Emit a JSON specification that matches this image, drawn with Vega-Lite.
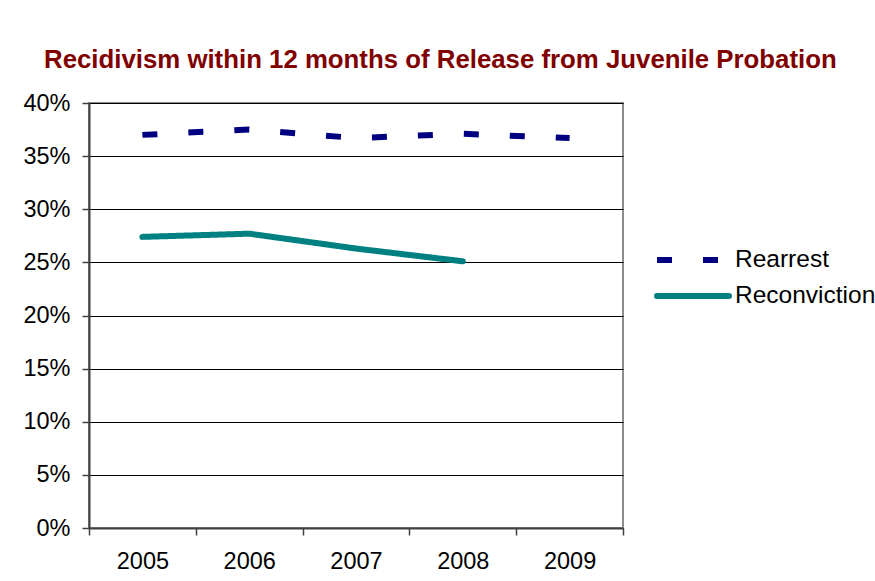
{
  "$schema": "https://vega.github.io/schema/vega-lite/v6.json",
  "width": 534,
  "height": 425,
  "autosize": {"type": "none"},
  "padding": {"left": 89, "top": 103, "right": 252, "bottom": 53},
  "background": "white",
  "title": {
    "text": "Recidivism within 12 months of Release from Juvenile Probation",
    "anchor": "start",
    "frame": "group",
    "orient": "top",
    "dx": -45,
    "dy": 38,
    "offset": 35,
    "baseline": "alphabetic",
    "font": "Liberation Sans",
    "fontSize": 25.8,
    "fontWeight": "bold",
    "color": "#800000"
  },
  "data": {
    "values": [
      {"year": "2005", "series": "Rearrest", "value": 0.370},
      {"year": "2006", "series": "Rearrest", "value": 0.375},
      {"year": "2007", "series": "Rearrest", "value": 0.367},
      {"year": "2008", "series": "Rearrest", "value": 0.371},
      {"year": "2009", "series": "Rearrest", "value": 0.367},
      {"year": "2005", "series": "Reconviction", "value": 0.274},
      {"year": "2006", "series": "Reconviction", "value": 0.277},
      {"year": "2007", "series": "Reconviction", "value": 0.263},
      {"year": "2008", "series": "Reconviction", "value": 0.251}
    ]
  },
  "encoding": {
    "x": {
      "field": "year",
      "type": "ordinal",
      "scale": {"type": "band", "paddingInner": 0, "paddingOuter": 0},
      "axis": {
        "title": null,
        "labelAngle": 0,
        "tickBand": "extent",
        "grid": false,
        "domainColor": "#404040",
        "domainWidth": 2,
        "tickColor": "#404040",
        "tickWidth": 1.5,
        "tickSize": 7,
        "labelPadding": 14,
        "labelFont": "Liberation Sans",
        "labelFontSize": 23.5,
        "labelColor": "#000000"
      }
    },
    "y": {
      "field": "value",
      "type": "quantitative",
      "scale": {"domain": [0, 0.4], "nice": false, "zero": true},
      "axis": {
        "title": null,
        "values": [0, 0.05, 0.1, 0.15, 0.2, 0.25, 0.3, 0.35, 0.4],
        "format": ".0%",
        "grid": true,
        "gridColor": "#000000",
        "gridWidth": 1,
        "gridOpacity": 1,
        "domainColor": "#404040",
        "domainWidth": 2,
        "tickColor": "#404040",
        "tickWidth": 1.5,
        "tickSize": 7,
        "labelPadding": 12,
        "labelFont": "Liberation Sans",
        "labelFontSize": 23.5,
        "labelColor": "#000000"
      }
    },
    "color": {
      "field": "series",
      "type": "nominal",
      "scale": {"domain": ["Rearrest", "Reconviction"], "range": ["#000080", "#008080"]},
      "legend": {
        "title": null,
        "orient": "none",
        "legendX": 591,
        "legendY": 144,
        "padding": 0,
        "symbolType": "M-3.6,0H3.6",
        "symbolSize": 400,
        "symbolStrokeWidth": 6,
        "symbolOffset": 0,
        "labelOffset": 29,
        "rowPadding": 11,
        "labelFont": "Liberation Sans",
        "labelFontSize": 24.5,
        "labelColor": "#000000",
        "encode": {
          "symbols": {"update": {
            "strokeCap": {"signal": "datum.value === 'Reconviction' ? 'round' : 'butt'"}
          }}
        }
      }
    },
    "strokeDash": {
      "field": "series",
      "type": "nominal",
      "scale": {"domain": ["Rearrest", "Reconviction"], "range": [[15, 31], [1, 0]]},
      "legend": {
        "title": null,
        "orient": "none",
        "legendX": 591,
        "legendY": 144,
        "padding": 0,
        "symbolType": "M-3.6,0H3.6",
        "symbolSize": 400,
        "symbolStrokeWidth": 6,
        "symbolOffset": 0,
        "labelOffset": 29,
        "rowPadding": 11,
        "labelFont": "Liberation Sans",
        "labelFontSize": 24.5,
        "labelColor": "#000000"
      }
    }
  },
  "layer": [
    {
      "transform": [{"filter": "datum.series === 'Rearrest'"}],
      "mark": {"type": "line", "strokeWidth": 6, "strokeCap": "butt"}
    },
    {
      "transform": [{"filter": "datum.series === 'Reconviction'"}],
      "mark": {"type": "line", "strokeWidth": 6, "strokeCap": "round", "strokeJoin": "round"}
    }
  ],
  "config": {
    "view": {"stroke": "#8c8c8c", "strokeWidth": 2}
  }
}
